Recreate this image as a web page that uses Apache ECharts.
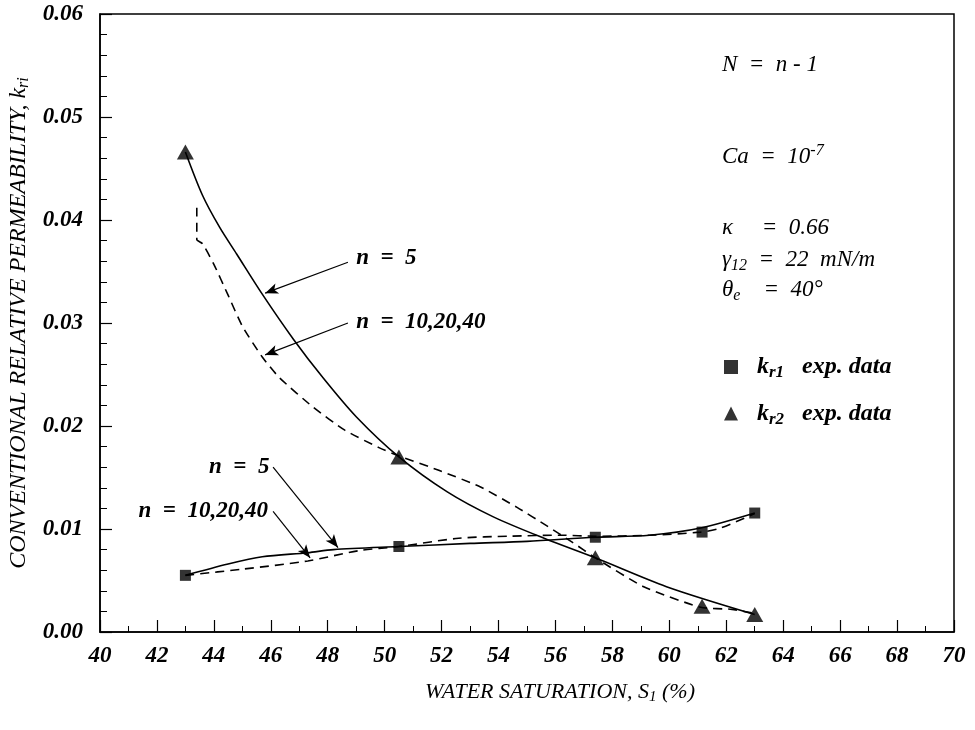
<!DOCTYPE html>
<html><head><meta charset="utf-8">
<script src="https://cdn.jsdelivr.net/npm/echarts@6/dist/echarts.min.js"></script>
<style>html,body{margin:0;padding:0;background:#fff}#c{width:975px;height:730px}</style>
</head><body><div id="c"></div>
<script>
// ---- data ----
const xTicks = [40,42,44,46,48,50,52,54,56,58,60,62,64,66,68,70];
const yTicks = ['0.00','0.01','0.02','0.03','0.04','0.05','0.06'];

// experimental points (water saturation %, relative permeability)
const expSw  = [43.0, 50.5, 57.4, 61.15, 63.0];
const kr1Exp = [0.0055, 0.0083, 0.0092, 0.0097, 0.01155];
const kr2Exp = [0.0466, 0.0170, 0.0072, 0.0025, 0.0017];

// model curves
const kr2N5X  = [43.0, 43.6, 44.2, 44.8, 45.7, 46.8, 47.8, 49.0, 50.5, 52.2, 53.8, 55.6, 57.4, 59.9, 63.0];
const kr2N5Y  = [0.0466, 0.0424, 0.0393, 0.0367, 0.0328, 0.0284, 0.0248, 0.0209, 0.0170, 0.0136, 0.0112, 0.0091, 0.0072, 0.0044, 0.0017];
const kr2N10X = [43.4, 43.4, 43.6, 44.0, 44.5, 45.0, 45.7, 46.3, 47.5, 48.6, 49.8, 50.5, 51.9, 53.35, 54.65, 55.7, 56.6, 57.4, 59.1, 61.1, 62.2, 63.0];
const kr2N10Y = [0.0412, 0.0381, 0.0377, 0.0357, 0.0327, 0.0297, 0.0267, 0.0247, 0.0218, 0.0196, 0.0179, 0.0171, 0.0157, 0.0141, 0.0121, 0.0103, 0.0087, 0.0072, 0.0044, 0.0024, 0.0022, 0.0018];
const kr1N5X  = [43.0, 44.5, 45.7, 47.3, 48.2, 50.5, 53.0, 55.0, 57.4, 59.3, 61.1, 63.0];
const kr1N5Y  = [0.0055, 0.0066, 0.0073, 0.0077, 0.0080, 0.0083, 0.0086, 0.0088, 0.0092, 0.0094, 0.0101, 0.01155];
const kr1N10X = [43.0, 45.0, 47.3, 49.1, 50.5, 52.6, 54.4, 56.2, 57.4, 59.3, 61.1, 61.8, 63.0];
const kr1N10Y = [0.0055, 0.0061, 0.0069, 0.0079, 0.0083, 0.0091, 0.0093, 0.0094, 0.0093, 0.0094, 0.0097, 0.0101, 0.0115];

// annotation labels (data coordinates) and arrows
const annLabels = [
  {text:'n = 5',        x:49.0,  y:0.0363, align:'left'},
  {text:'n = 10,20,40', x:49.0,  y:0.0301, align:'left'},
  {text:'n = 5',        x:45.95, y:0.0160, align:'right'},
  {text:'n = 10,20,40', x:45.9,  y:0.0117, align:'right'}
];
const annArrows = [
  [[48.71, 0.0359], [45.8, 0.0329]],
  [[48.71, 0.0300], [45.8, 0.0269]],
  [[46.08, 0.0160], [48.36, 0.0082]],
  [[46.08, 0.0117], [47.38, 0.0072]]
];

const zip = (xs, ys) => xs.map((x, i) => [x, ys[i]]);
const FONT = 'Liberation Serif';

const chart = echarts.init(document.getElementById('c'), null, {renderer:'canvas'});
const lineBase = {type:'line', symbol:'none', smooth:0.3, z:3, silent:true};

chart.setOption({
  backgroundColor:'#fff',
  animation:false,
  grid:{left:100, right:21, top:14, bottom:98, show:true, borderColor:'#000', borderWidth:1.5, backgroundColor:'#fff',
    containLabel:false, outerBoundsMode:'none'},
  xAxis:{
    type:'value', min:40, max:70, interval:2,
    axisLine:{show:true, onZero:false, lineStyle:{color:'#000', width:1.5}},
    axisTick:{show:true, inside:true, length:12, lineStyle:{color:'#000', width:1.2}},
    minorTick:{show:true, splitNumber:2, length:6, lineStyle:{color:'#000', width:1}},
    splitLine:{show:false},
    axisLabel:{margin:13, color:'#000', fontFamily:FONT, fontStyle:'italic', fontWeight:'bold', fontSize:23,
      formatter:v => xTicks.includes(v) ? String(v) : ''},
    name:'{t|WATER SATURATION, S}{s|1}{t| (%)}',
    nameLocation:'middle', nameGap:48,
    nameTextStyle:{padding:[0,0,0,66], rich:{
      t:{fontFamily:FONT, fontStyle:'italic', fontSize:22, color:'#000'},
      s:{fontFamily:FONT, fontStyle:'italic', fontSize:15, color:'#000', padding:[10,0,0,0]}
    }}
  },
  yAxis:{
    type:'value', min:0, max:0.06, interval:0.01,
    axisLine:{show:true, onZero:false, lineStyle:{color:'#000', width:1.5}},
    axisTick:{show:true, inside:true, length:12, lineStyle:{color:'#000', width:1.2}},
    minorTick:{show:true, splitNumber:5, length:7, lineStyle:{color:'#000', width:1}},
    splitLine:{show:false},
    axisLabel:{margin:17, color:'#000', fontFamily:FONT, fontStyle:'italic', fontWeight:'bold', fontSize:23,
      formatter:v => yTicks[Math.round(v*100)] || ''},
    name:'{t|CONVENTIONAL RELATIVE PERMEABILITY, k}{s|ri}',
    nameLocation:'middle', nameGap:56, nameRotate:90,
    nameTextStyle:{rich:{
      t:{fontFamily:FONT, fontStyle:'italic', fontSize:24, color:'#000'},
      s:{fontFamily:FONT, fontStyle:'italic', fontSize:16, color:'#000', padding:[11,0,0,0]}
    }}
  },
  legend:{
    left:719, top:350, orient:'vertical', itemGap:20, itemWidth:14, itemHeight:14,
    selectedMode:false,
    data:[{name:'kr1', icon:'rect', itemStyle:{color:'#000'}}, {name:'kr2', icon:'triangle', itemStyle:{color:'#000'}}],
    formatter:n => n === 'kr1' ? '{k|k}{s|r1}{t|   exp. data}' : '{k|k}{s|r2}{t|   exp. data}',
    textStyle:{padding:[0,0,0,14], rich:{
      k:{fontFamily:FONT, fontStyle:'italic', fontWeight:'bold', fontSize:24, color:'#000'},
      s:{fontFamily:FONT, fontStyle:'italic', fontWeight:'bold', fontSize:17, color:'#000', padding:[12,0,0,0]},
      t:{fontFamily:FONT, fontStyle:'italic', fontWeight:'bold', fontSize:24, color:'#000'}
    }}
  },
  series:[
    Object.assign({}, lineBase, {name:'kr2 n=5', data:zip(kr2N5X, kr2N5Y), lineStyle:{color:'#000', width:1.6}}),
    Object.assign({}, lineBase, {name:'kr2 n=10,20,40', data:zip(kr2N10X, kr2N10Y), smooth:0.2, lineStyle:{color:'#000', width:1.6, type:[9,6]}}),
    Object.assign({}, lineBase, {name:'kr1 n=5', data:zip(kr1N5X, kr1N5Y), lineStyle:{color:'#000', width:1.6}}),
    Object.assign({}, lineBase, {name:'kr1 n=10,20,40', data:zip(kr1N10X, kr1N10Y), lineStyle:{color:'#000', width:1.6, type:[9,6]}}),
    {type:'scatter', name:'kr1', data:zip(expSw, kr1Exp), symbol:'rect', symbolSize:11, itemStyle:{color:'#000'}, z:5},
    {type:'scatter', name:'kr2', data:zip(expSw, kr2Exp), symbol:'triangle', symbolSize:[17,15], itemStyle:{color:'#000'}, z:5},
    {type:'line', name:'arrows', data:[], silent:true,
      markLine:{silent:true, symbol:['none','arrow'], symbolSize:[8,13], precision:6,
        lineStyle:{color:'#000', width:1.2, type:'solid'}, label:{show:false},
        data:annArrows.map(a => [{coord:a[0]}, {coord:a[1]}])}}
  ]
});

// text annotations
const graphics = annLabels.map(a => {
  const p = chart.convertToPixel({gridIndex:0}, [a.x, a.y]);
  return {type:'text', x:p[0], y:p[1], z:10,
    style:{text:a.text.replace(/ = /, '  =  '), fontFamily:FONT, fontStyle:'italic', fontWeight:'bold', fontSize:23,
      fill:'#000', align:a.align, verticalAlign:'middle'}};
});
const it = {fontFamily:FONT, fontStyle:'italic', fontSize:23, fill:'#000'};
const sub = Object.assign({}, it, {fontSize:16, padding:[12,0,0,0]});
const sup = Object.assign({}, it, {fontSize:16, padding:[0,0,13,0]});
const rightTexts = [
  {y:65,  text:'{i|N  =  n - 1}'},
  {y:157, text:'{i|Ca  =  10}{p|-7}'},
  {y:228, text:'{i|κ     =  0.66}'},
  {y:260, text:'{i|γ}{b|12}{i|  =  22  mN/m}'},
  {y:290, text:'{i|θ}{b|e}{i|    =  40°}'}
];
rightTexts.forEach(t => graphics.push({type:'text', x:722, y:t.y, z:10,
  style:{text:t.text, verticalAlign:'middle', align:'left', rich:{i:it, b:sub, p:sup}}}));
chart.setOption({graphic:graphics});
</script></body></html>
